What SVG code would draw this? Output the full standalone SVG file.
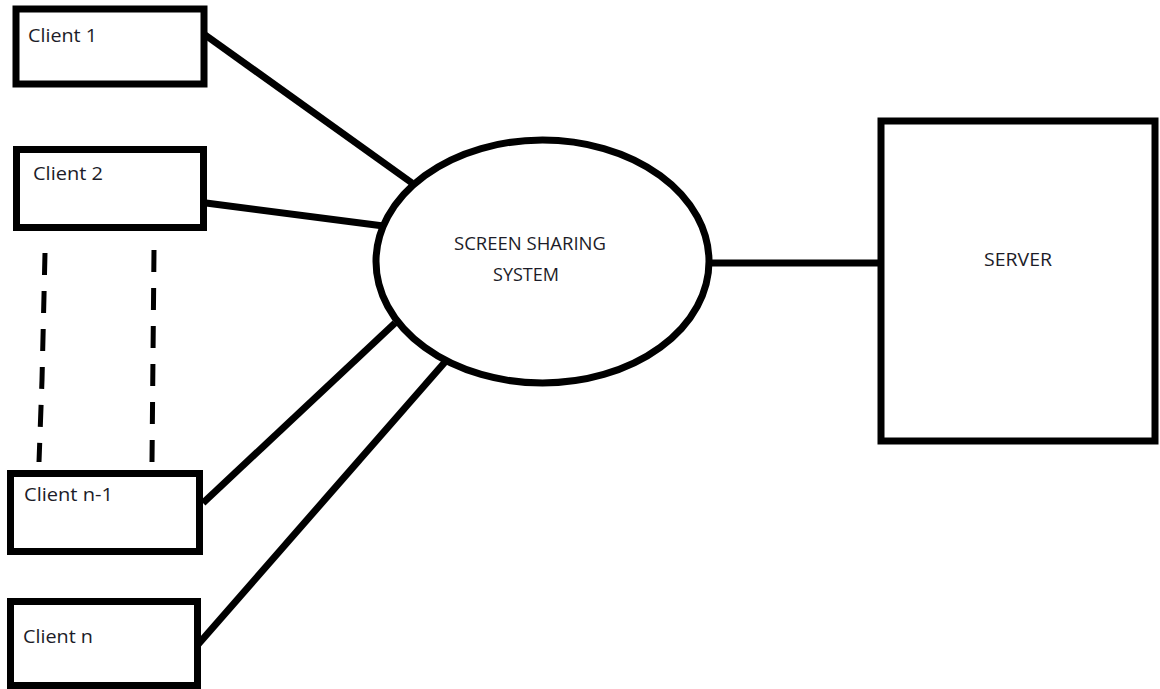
<svg xmlns="http://www.w3.org/2000/svg" width="1160" height="689" viewBox="0 0 1160 689">
<style>
.box{fill:#fff;stroke:#000;stroke-width:7}
.lbl{font-family:"Open Sans","Liberation Sans",Arial,sans-serif;font-size:18px;fill:#1c1c28}
.conn{stroke:#000;stroke-width:7;stroke-linecap:butt;fill:none}
.dash{stroke:#000;stroke-width:5;stroke-dasharray:22 16;fill:none}
</style>
<rect width="1160" height="689" fill="#fff"/>
<g id="connectors">
<line class="conn" x1="201" y1="32" x2="412" y2="183"/>
<line class="conn" x1="206" y1="203" x2="399" y2="228"/>
<line class="conn" x1="203" y1="503" x2="395" y2="323"/>
<line class="conn" x1="195" y1="648" x2="445" y2="362"/>
<line class="conn" x1="709" y1="263" x2="884" y2="263"/>
<path class="dash" d="M45 253 L42 380 L39 462"/>
<path class="dash" d="M154 250 L152 462"/>
</g>
<g id="client1">
<rect class="box" x="16" y="9" width="188" height="75"/>
<text class="lbl" x="28" y="42" textLength="69" lengthAdjust="spacingAndGlyphs">Client 1</text>
</g>
<g id="client2">
<rect class="box" x="16.5" y="149.5" width="187" height="78"/>
<text class="lbl" x="33" y="180" textLength="70" lengthAdjust="spacingAndGlyphs">Client 2</text>
</g>
<g id="clientn1">
<rect class="box" x="10.5" y="473.5" width="189" height="78"/>
<text class="lbl" x="24" y="501" textLength="89" lengthAdjust="spacingAndGlyphs">Client n-1</text>
</g>
<g id="clientn">
<rect class="box" x="10.5" y="601.5" width="187" height="84"/>
<text class="lbl" x="23" y="643" textLength="70" lengthAdjust="spacingAndGlyphs">Client n</text>
</g>
<g id="system">
<ellipse cx="542.5" cy="261.5" rx="166.5" ry="121.5" fill="#fff" stroke="#000" stroke-width="7"/>
<text class="lbl" x="454" y="250" textLength="152" lengthAdjust="spacingAndGlyphs">SCREEN SHARING</text>
<text class="lbl" x="493" y="281" textLength="66" lengthAdjust="spacingAndGlyphs">SYSTEM</text>
</g>
<g id="server">
<rect class="box" x="881" y="121" width="274" height="320" stroke-width="8"/>
<text class="lbl" x="984" y="266" textLength="68" lengthAdjust="spacingAndGlyphs">SERVER</text>
</g>
</svg>
